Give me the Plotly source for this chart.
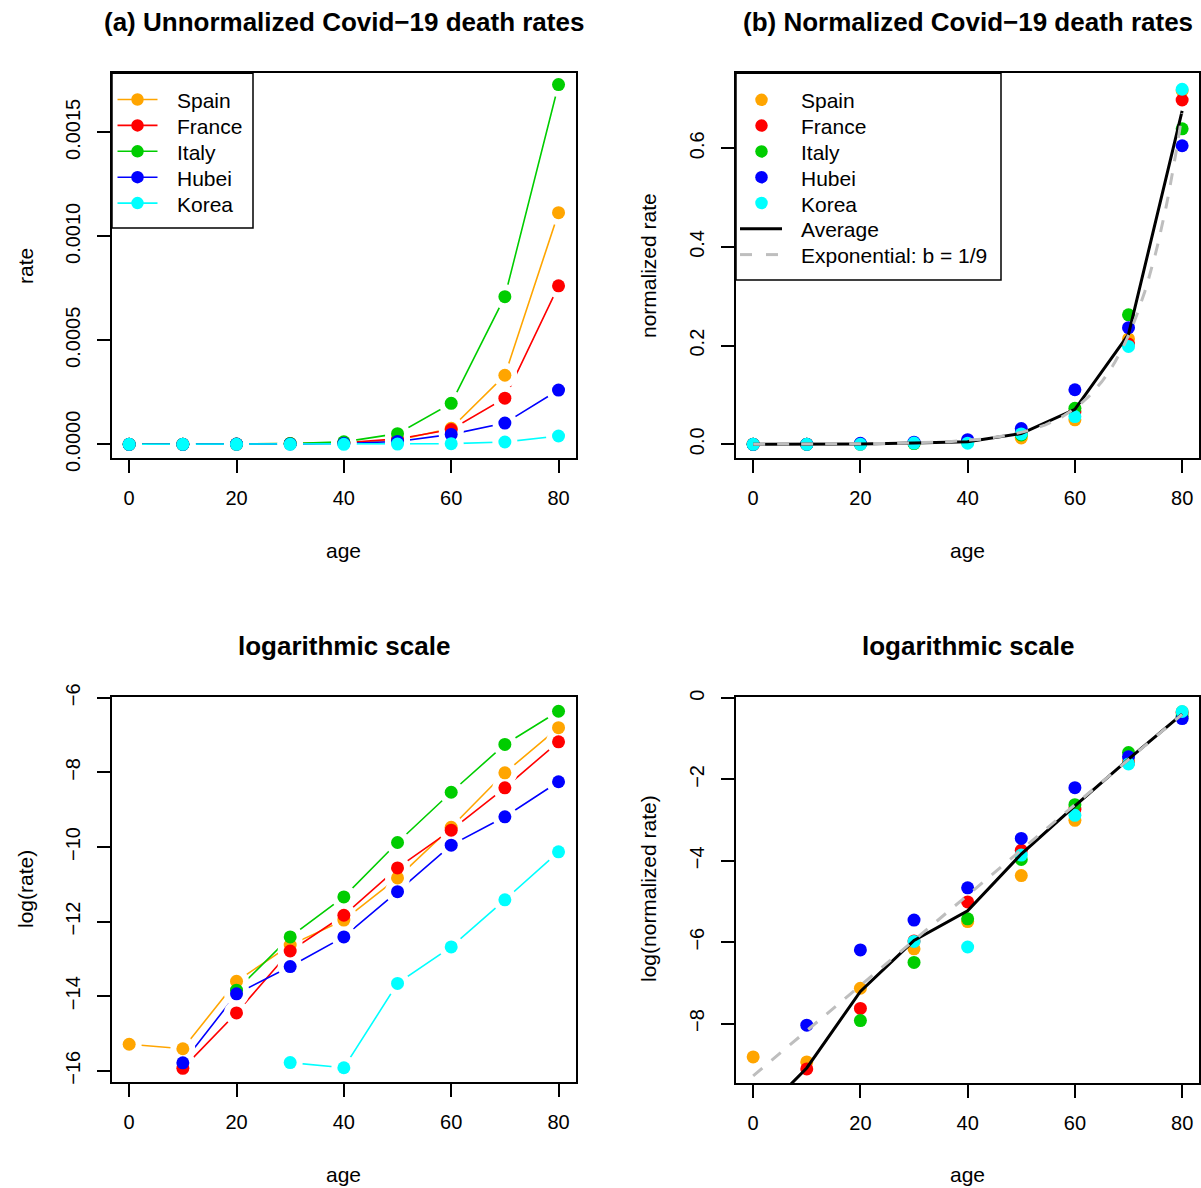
import numpy as np
import plotly.graph_objects as go

# ---------------- data ----------------
ages = [0, 10, 20, 30, 40, 50, 60, 70, 80]
countries = ["Spain", "France", "Italy", "Hubei", "Korea"]
spain = [2.29e-7, 2.03e-7, 1.24e-6, 3.27e-6, 6.39e-6, 1.98e-5, 7.71e-5, 3.32e-4, 1.114e-3]
france = [0.0, 1.20e-7, 5.31e-7, 2.79e-6, 7.28e-6, 2.59e-5, 7.12e-5, 2.22e-4, 7.62e-4]
italy = [0.0, 0.0, 9.76e-7, 4.07e-6, 1.19e-5, 5.12e-5, 1.97e-4, 7.10e-4, 1.73e-3]
hubei = [0.0, 1.39e-7, 8.84e-7, 1.84e-6, 4.07e-6, 1.37e-5, 4.77e-5, 1.02e-4, 2.61e-4]
korea = [0.0, 0.0, 0.0, 1.40e-7, 1.22e-7, 1.17e-6, 3.11e-6, 1.10e-5, 3.99e-5]
b_exp = 1 / 9  # exponential model parameter (legend: b = 1/9)
extra_legend = ["Average", "Exponential: b = 1/9"]

x_ticks = [0, 20, 40, 60, 80]
y_ticks_a = [0.0, 0.0005, 0.0010, 0.0015]
y_labels_a = ["0.0000", "0.0005", "0.0010", "0.0015"]
y_ticks_b = [0.0, 0.2, 0.4, 0.6]
y_labels_b = ["0.0", "0.2", "0.4", "0.6"]
y_ticks_c = [-16, -14, -12, -10, -8, -6]
y_ticks_d = [-8, -6, -4, -2, 0]

colors = ["#FFA500", "#FF0000", "#00CD00", "#0000FF", "#00FFFF"]
series = [spain, france, italy, hubei, korea]
GREY = "#BEBEBE"

# ---------------- derived quantities ----------------
ages_a = np.array(ages, dtype=float)
rates = [np.array(s, dtype=float) for s in series]
norm = [r / r.sum() for r in rates]
average = np.mean(np.vstack(norm), axis=0)
# exponential model curve exp(b*age), normalised over the observed age groups
age_grid = np.linspace(0, 80, 161)
expo_norm = np.exp(b_exp * ages_a).sum()
expo = np.exp(b_exp * age_grid) / expo_norm


def safe_log(v):
    return [float(np.log(x)) if x > 0 else None for x in v]


def minus(v):
    return str(v).replace("-", "\u2212")


W, H = 1201, 1188
FONT = "Liberation Sans, Arial, Helvetica, sans-serif"


def px(x):
    return x / W


def py(y):
    return 1 - y / H


def dx(a, b):
    return [a / W, b / W]


def dy(top, bottom):
    return [1 - bottom / H, 1 - top / H]


fig = go.Figure()

MS = 13
HALO = 25
LW = 1.6
DASH = "12px,12px"

# ---- panel (a): unnormalized rates, lines with gaps around points ----
for name, col, r in zip(countries, colors, rates):
    fig.add_trace(go.Scatter(x=ages, y=r, mode="lines", name=name,
                             line=dict(color=col, width=LW),
                             xaxis="x", yaxis="y"))
for r in rates:
    fig.add_trace(go.Scatter(x=ages, y=r, mode="markers",
                             marker=dict(color="white", size=HALO),
                             xaxis="x", yaxis="y", hoverinfo="skip"))
for name, col, r in zip(countries, colors, rates):
    fig.add_trace(go.Scatter(x=ages, y=r, mode="markers", name=name,
                             marker=dict(color=col, size=MS),
                             xaxis="x", yaxis="y"))

# ---- panel (c): log rates ----
for name, col, r in zip(countries, colors, rates):
    fig.add_trace(go.Scatter(x=ages, y=safe_log(r), mode="lines", name=name,
                             line=dict(color=col, width=LW),
                             xaxis="x3", yaxis="y3"))
for r in rates:
    fig.add_trace(go.Scatter(x=ages, y=safe_log(r), mode="markers",
                             marker=dict(color="white", size=HALO),
                             xaxis="x3", yaxis="y3", hoverinfo="skip"))
for name, col, r in zip(countries, colors, rates):
    fig.add_trace(go.Scatter(x=ages, y=safe_log(r), mode="markers", name=name,
                             marker=dict(color=col, size=MS),
                             xaxis="x3", yaxis="y3"))

# ---- panel (b): normalized rates ----
for name, col, n in zip(countries, colors, norm):
    fig.add_trace(go.Scatter(x=ages, y=n, mode="markers", name=name,
                             marker=dict(color=col, size=MS),
                             xaxis="x2", yaxis="y2"))
fig.add_trace(go.Scatter(x=ages, y=average, mode="lines", name=extra_legend[0],
                         line=dict(color="black", width=3),
                         xaxis="x2", yaxis="y2"))
fig.add_trace(go.Scatter(x=age_grid, y=expo, mode="lines", name=extra_legend[1],
                         line=dict(color=GREY, width=3, dash=DASH),
                         xaxis="x2", yaxis="y2"))

# ---- panel (d): log normalized ----
for name, col, n in zip(countries, colors, norm):
    fig.add_trace(go.Scatter(x=ages, y=safe_log(n), mode="markers", name=name,
                             marker=dict(color=col, size=MS),
                             xaxis="x4", yaxis="y4"))
fig.add_trace(go.Scatter(x=ages, y=np.log(average), mode="lines", name=extra_legend[0],
                         line=dict(color="black", width=3),
                         xaxis="x4", yaxis="y4"))
fig.add_trace(go.Scatter(x=age_grid, y=np.log(expo), mode="lines", name=extra_legend[1],
                         line=dict(color=GREY, width=3, dash=DASH),
                         xaxis="x4", yaxis="y4"))

axis_common = dict(showline=True, mirror=True, linecolor="black", linewidth=1.5,
                   ticks="outside", ticklen=13, tickwidth=1.5, tickcolor="black",
                   showgrid=False, zeroline=False, automargin=False,
                   tickfont=dict(family=FONT, size=20, color="black"))

xr = [-3.2, 83.2]
left_x = dx(112, 575.7)
right_x = dx(736, 1199.3)
top_y = dy(73.3, 458.3)
bot_y_l = dy(696.7, 1082.3)
bot_y_r = dy(697.3, 1083.3)

XSO = 8
YSO = 9

fig.update_layout(
    template="none",
    xaxis=dict(domain=left_x, range=xr, anchor="y", tickvals=x_ticks,
               ticklabelstandoff=XSO, **axis_common),
    yaxis=dict(domain=top_y, range=[-0.0000673, 0.001784], anchor="x",
               tickvals=y_ticks_a, ticktext=y_labels_a, tickangle=-90,
               ticklabelstandoff=YSO, **axis_common),
    xaxis2=dict(domain=right_x, range=xr, anchor="y2", tickvals=x_ticks,
                ticklabelstandoff=XSO, **axis_common),
    yaxis2=dict(domain=top_y, range=[-0.0284, 0.752], anchor="x2",
                tickvals=y_ticks_b, ticktext=y_labels_b, tickangle=-90,
                ticklabelstandoff=YSO, **axis_common),
    xaxis3=dict(domain=left_x, range=xr, anchor="y3", tickvals=x_ticks,
                ticklabelstandoff=XSO, **axis_common),
    yaxis3=dict(domain=bot_y_l, range=[-16.31, -5.97], anchor="x3",
                tickvals=y_ticks_c, ticktext=[minus(v) for v in y_ticks_c],
                tickangle=-90, ticklabelstandoff=YSO, **axis_common),
    xaxis4=dict(domain=right_x, range=xr, anchor="y4", tickvals=x_ticks,
                ticklabelstandoff=XSO, **axis_common),
    yaxis4=dict(domain=bot_y_r, range=[-9.47, 0.02], anchor="x4",
                tickvals=y_ticks_d, ticktext=[minus(v) for v in y_ticks_d],
                tickangle=-90, ticklabelstandoff=YSO, **axis_common),
    width=W, height=H,
    margin=dict(l=0, r=0, t=0, b=0, autoexpand=False),
    paper_bgcolor="white", plot_bgcolor="white",
    font=dict(family=FONT, size=20, color="black"),
    showlegend=False,
)

ann = []
shapes = []


def add_text(text, x, y, size=21, angle=0, bold=False, anchor="center"):
    ann.append(dict(text=f"<b>{text}</b>" if bold else text,
                    x=px(x), y=py(y), xref="paper", yref="paper",
                    xanchor=anchor, yanchor="middle", showarrow=False,
                    textangle=angle,
                    font=dict(family=FONT, size=size, color="black")))


def add_rect(x0, y0, x1, y1):
    shapes.append(dict(type="rect", xref="paper", yref="paper",
                       x0=px(x0), x1=px(x1), y0=py(y1), y1=py(y0),
                       fillcolor="white", line=dict(color="black", width=1.5),
                       layer="above"))


def add_seg(x0, x1, y, color, width, dash="solid"):
    shapes.append(dict(type="line", xref="paper", yref="paper",
                       x0=px(x0), x1=px(x1), y0=py(y), y1=py(y),
                       line=dict(color=color, width=width, dash=dash),
                       layer="above"))


def add_dot(cx, cy, color, d=12.5):
    shapes.append(dict(type="circle", xref="paper", yref="paper",
                       x0=px(cx - d / 2), x1=px(cx + d / 2),
                       y0=py(cy + d / 2), y1=py(cy - d / 2),
                       fillcolor=color, line=dict(width=0), layer="above"))


# ---- legend of panel (a) ----
add_rect(112, 73.3, 253, 228)
for i, (name, col) in enumerate(zip(countries, colors)):
    yy = 99.5 + 25.9 * i
    add_seg(117.5, 157.5, yy, col, LW)
    add_dot(137.5, yy, col)
    add_text(name, 174.5, yy + 1, anchor="left")

# ---- legend of panel (b) ----
add_rect(736, 73.3, 1001, 280)
for i, (name, col) in enumerate(zip(countries, colors)):
    yy = 99.8 + 25.8 * i
    add_dot(761.5, yy, col)
    add_text(name, 798.5, yy + 1, anchor="left")
y_avg = 99.8 + 25.8 * 5
y_exp = 99.8 + 25.8 * 6
add_seg(740, 782, y_avg, "black", 3)
add_text(extra_legend[0], 798.5, y_avg + 1, anchor="left")
add_seg(740, 752, y_exp, GREY, 3)
add_seg(766, 778, y_exp, GREY, 3)
add_text(extra_legend[1], 798.5, y_exp + 1, anchor="left")

# ---- titles and axis labels ----
add_text("(a) Unnormalized Covid\u221219 death rates", 343.8, 22, size=26, bold=True)
add_text("(b) Normalized Covid\u221219 death rates", 967.6, 22, size=26, bold=True)
add_text("logarithmic scale", 343.8, 646, size=26, bold=True)
add_text("logarithmic scale", 967.6, 646, size=26, bold=True)
add_text("age", 343.8, 550)
add_text("age", 967.6, 550)
add_text("age", 343.8, 1174)
add_text("age", 967.6, 1174)
add_text("rate", 25, 266, angle=-90)
add_text("normalized rate", 648, 266, angle=-90)
add_text("log(rate)", 25, 889, angle=-90)
add_text("log(normalized rate)", 648, 889, angle=-90)
fig.update_layout(annotations=ann, shapes=shapes)

fig.write_html("out.html",
               config={"displayModeBar": False},
               post_script="document.body.style.margin='0px';"
                           "document.body.style.overflow='hidden';")
